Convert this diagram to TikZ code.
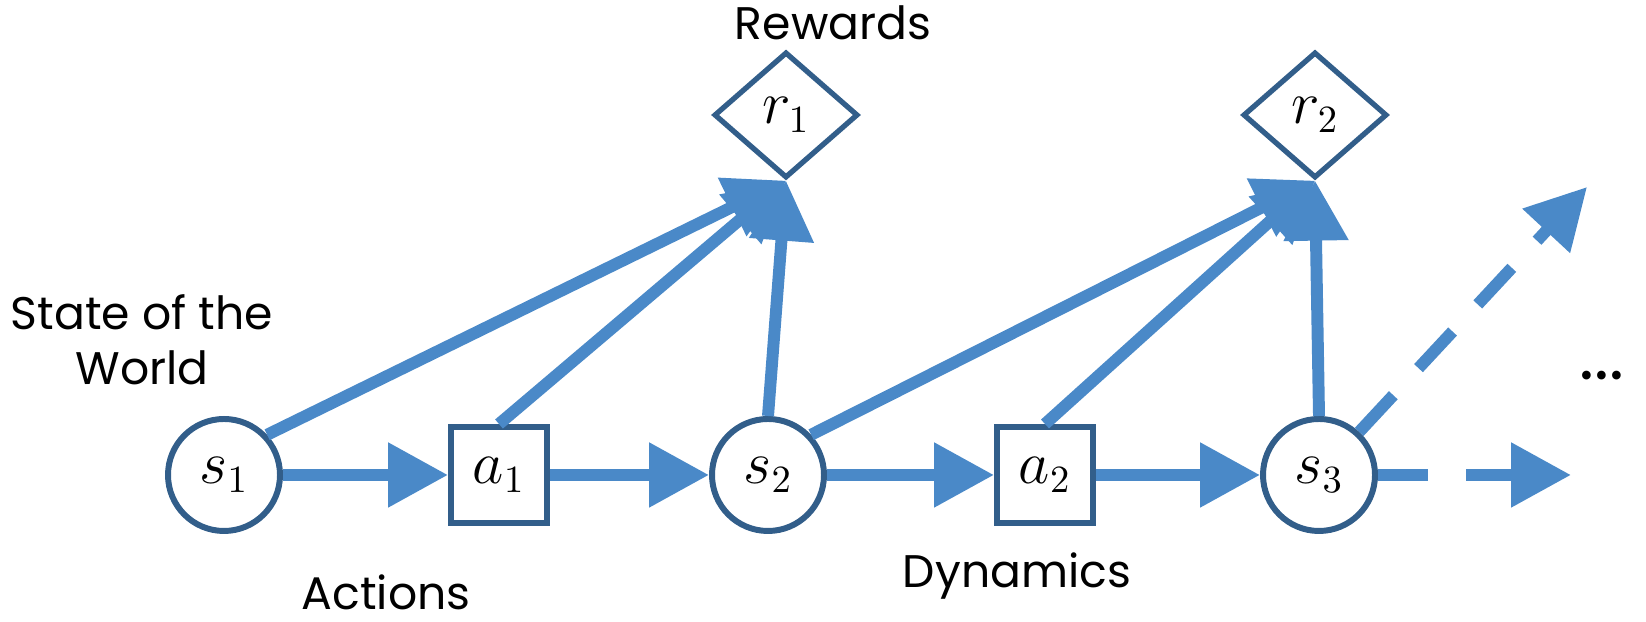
\documentclass[tikz,border=0pt]{standalone}
\usepackage{fontspec}
\setmainfont{Poppins}
\usetikzlibrary{arrows.meta,shapes.geometric}

\definecolor{flowblue}{RGB}{74,137,200}
\definecolor{nodeblue}{RGB}{50,94,138}

\tikzset{
    statenode/.style={circle, draw=nodeblue, line width=1.7pt, fill=white,
        minimum size=1.12cm, inner sep=0pt, font=\fontsize{16}{18}\selectfont},
    actnode/.style={rectangle, draw=nodeblue, line width=1.7pt, fill=white,
        minimum size=0.96cm, inner sep=0pt, font=\fontsize{16}{18}\selectfont},
    rewnode/.style={diamond, draw=nodeblue, line width=1.5pt, fill=white,
        minimum width=1.44cm, minimum height=1.26cm, shape aspect=1.14,
        inner sep=0pt, font=\fontsize{16}{18}\selectfont},
    flow/.style={line width=3.4pt, draw=flowblue,
        -{Triangle[length=6mm,width=6.2mm]}},
    label/.style={font=\fontsize{13}{15.5}\selectfont, align=center}
}

\begin{document}
\begin{tikzpicture}
    \useasboundingbox (0,0) rectangle (16.46,6.22);

    % 状态与动作
    \node[statenode] (s1) at (2.24, 1.47) {$s_1$};
    \node[actnode]   (a1) at (4.99, 1.47) {$a_1$};
    \node[statenode] (s2) at (7.68, 1.47) {$s_2$};
    \node[actnode]   (a2) at (10.45, 1.47) {$a_2$};
    \node[statenode] (s3) at (13.19, 1.47) {$s_3$};

    % 奖励
    \node[rewnode] (r1) at (7.86, 5.07) {$r_1$};
    \node[rewnode] (r2) at (13.15, 5.07) {$r_2$};

    % 虚线箭头的终点
    \coordinate (e1) at (15.71, 1.47);
    \coordinate (e2) at (15.87, 4.35);

    % 动态
    \draw[flow] (s1) -- (a1);
    \draw[flow] (a1) -- (s2);
    \draw[flow] (s2) -- (a2);
    \draw[flow] (a2) -- (s3);
    \draw[flow, dash pattern=on 5mm off 3.8mm] (s3) -- (e1);

    % 指向奖励
    \draw[flow] (s1.43) -- (r1.south);
    \draw[flow] (a1.north) -- (r1.south);
    \draw[flow] (s2.north) -- (r1.south);
    \draw[flow] (s2.43) -- (r2.south);
    \draw[flow] (a2.north) -- (r2.south);
    \draw[flow] (s3.north) -- (r2.south);
    \draw[flow, dash pattern=on 5mm off 3.7mm] (s3.47) -- (e2);

    % 标注
    \node[label] (rew) at (8.33, 5.99) {Rewards};
    \node[label] (sw) at (1.42, 2.82) {State of the\\World};
    \node[label] (act) at (3.86, 0.30) {Actions};
    \node[label] (dyn) at (10.17, 0.46) {Dynamics};
    \node[label, font=\fontsize{20}{22}\selectfont, anchor=base] (dots) at (16.02, 2.42) {...};
\end{tikzpicture}
\end{document}
